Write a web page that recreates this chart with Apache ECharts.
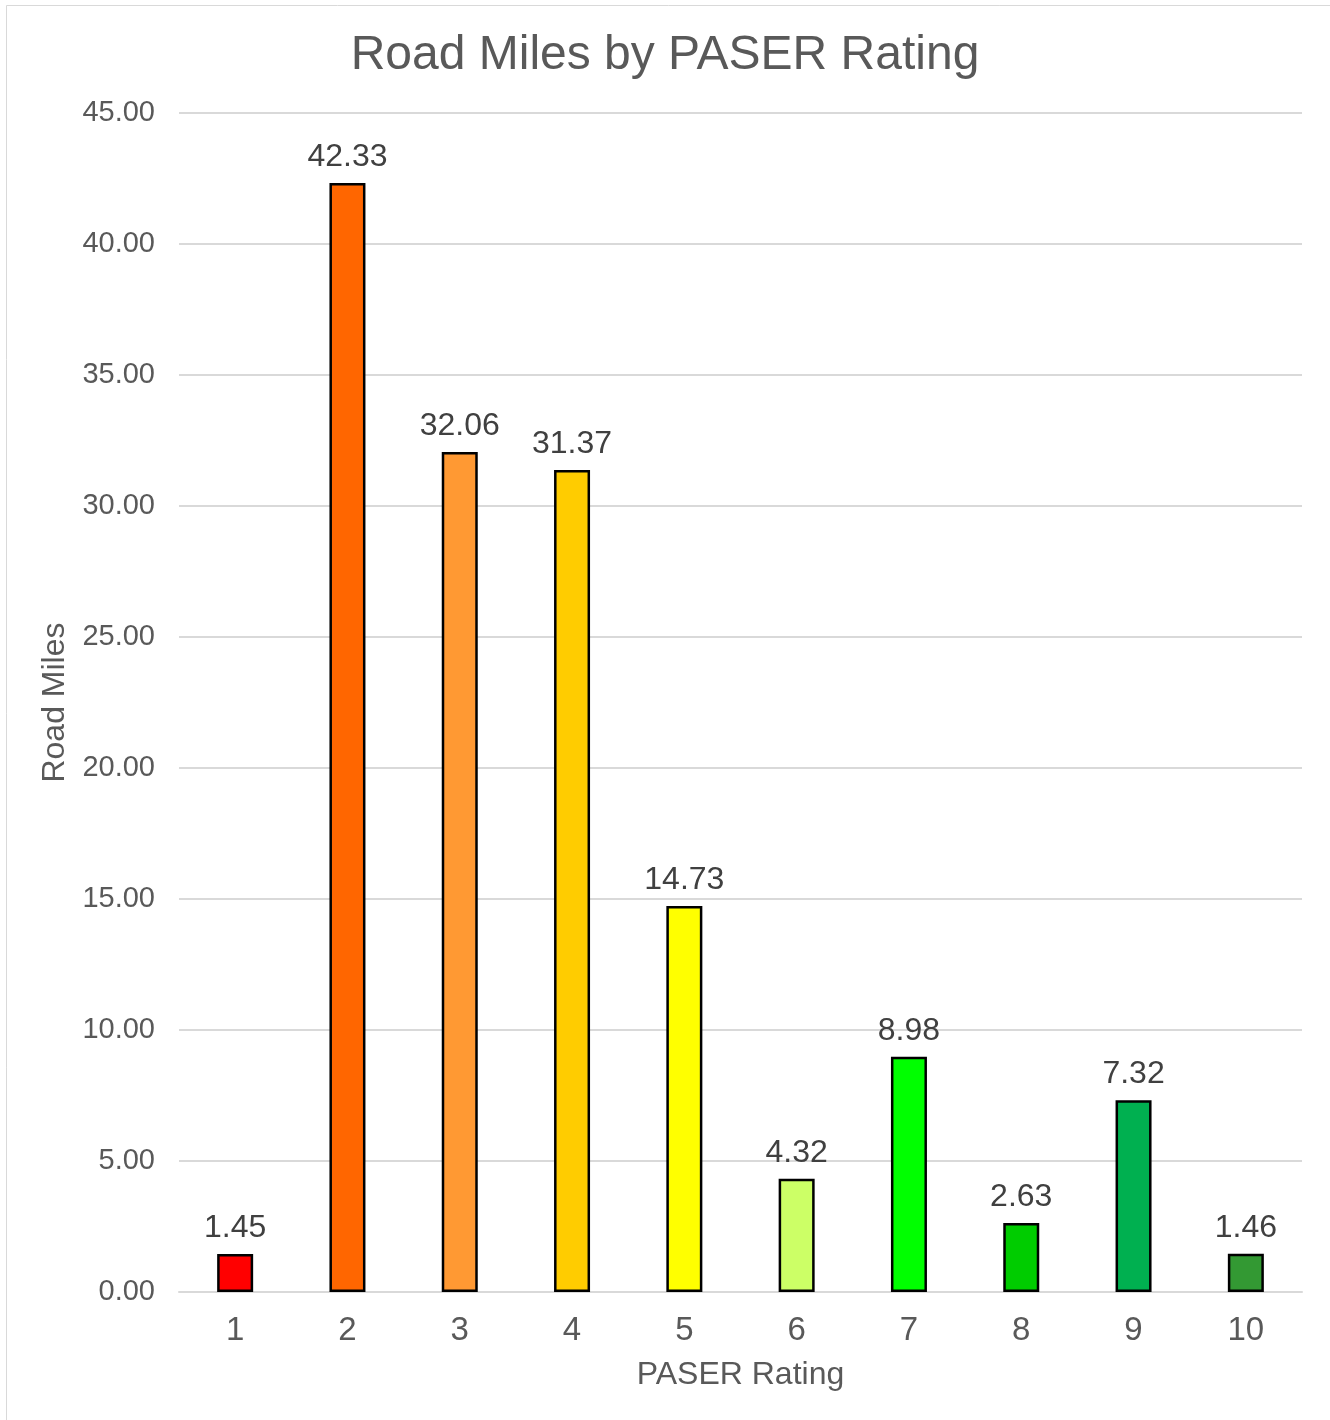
<!DOCTYPE html>
<html><head><meta charset="utf-8">
<script src="https://cdn.jsdelivr.net/npm/echarts@6/dist/echarts.min.js"></script>
<style>html,body{margin:0;padding:0;background:#fff}#c{width:1330px;height:1420px}</style>
</head><body><div id="c"></div>
<script>
const categories = ['1','2','3','4','5','6','7','8','9','10'];
const roadMiles = [1.45, 42.33, 32.06, 31.37, 14.73, 4.32, 8.98, 2.63, 7.32, 1.46];
const barColors = ['#FF0000','#FF6600','#FF9933','#FFCC00','#FFFF00','#CCFF66','#00FF00','#00CC00','#00B050','#339933'];
const yTicks = {min: 0, max: 45, interval: 5};

const chart = echarts.init(document.getElementById('c'));
chart.setOption({
  backgroundColor: '#fff',
  animation: false,
  title: {
    text: 'Road Miles by PASER Rating',
    left: 'center', top: 27,
    textStyle: {fontFamily: 'Liberation Sans', fontSize: 48, fontWeight: 'normal', color: '#595959'}
  },
  graphic: [{type: 'rect', shape: {x: 6.5, y: 5.5, width: 1340, height: 1440}, style: {fill: 'none', stroke: '#D9D9D9', lineWidth: 1}, silent: true}],
  grid: {left: 179, right: 28, top: 113, bottom: 128},
  xAxis: {
    type: 'category', data: categories,
    name: 'PASER Rating', nameLocation: 'middle', nameGap: 67,
    nameTextStyle: {fontFamily: 'Liberation Sans', fontSize: 32, color: '#595959'},
    axisLine: {lineStyle: {color: '#D9D9D9', width: 2}},
    axisTick: {show: false},
    axisLabel: {fontFamily: 'Liberation Sans', fontSize: 33, color: '#595959', margin: 22}
  },
  yAxis: {
    type: 'value', min: yTicks.min, max: yTicks.max, interval: yTicks.interval,
    name: 'Road Miles', nameLocation: 'middle', nameGap: 102, nameRotate: 90,
    nameTextStyle: {fontFamily: 'Liberation Sans', fontSize: 32, color: '#595959'},
    axisLine: {show: false}, axisTick: {show: false},
    axisLabel: {fontFamily: 'Liberation Sans', fontSize: 29, color: '#595959', margin: 24,
      formatter: v => v.toFixed(2)},
    splitLine: {lineStyle: {color: '#D9D9D9', width: 2}}
  },
  series: [{
    type: 'bar', barWidth: 36,
    data: roadMiles.map((v, i) => ({value: v, itemStyle: {color: barColors[i]}})),
    itemStyle: {borderColor: '#000', borderWidth: 2.5},
    label: {show: true, position: 'top', distance: 10, fontFamily: 'Liberation Sans', fontSize: 32, color: '#404040',
      formatter: p => p.value.toFixed(2)}
  }]
});
</script></body></html>
